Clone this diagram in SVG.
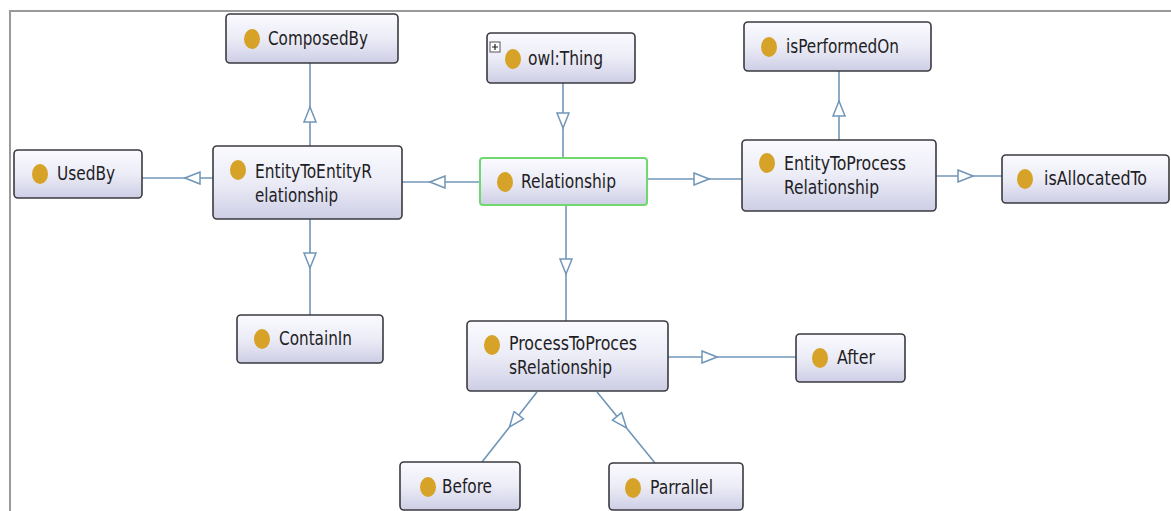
<svg xmlns="http://www.w3.org/2000/svg" width="1171" height="511" viewBox="0 0 1171 511">
<style>
.box{fill:url(#g);stroke:#3a3a40;stroke-width:1.6}
.sel{stroke:#6fd86f;stroke-width:2}
.dot{fill:#d6a227}
.t{font-family:"DejaVu Sans Condensed","DejaVu Sans",sans-serif;font-stretch:condensed;font-size:19px;fill:#1e1e24}
.c{fill:none;stroke:#7096b8;stroke-width:1.6;marker-mid:url(#tri)}
</style>
<defs>
<linearGradient id="g" x1="0" y1="0" x2="0" y2="1">
<stop offset="0" stop-color="#fafaff"/>
<stop offset="0.5" stop-color="#ececf7"/>
<stop offset="1" stop-color="#cdcee5"/>
</linearGradient>
<marker id="tri" viewBox="0 0 17 14" refX="16" refY="7" markerWidth="17" markerHeight="14" markerUnits="userSpaceOnUse" orient="auto">
<path d="M1,1 L16,7 L1,13 Z" fill="#ffffff" stroke="#7096b8" stroke-width="1.5"/>
</marker>
</defs>
<rect width="1171" height="511" fill="#ffffff"/>
<path d="M10,511 V11 H1171" fill="none" stroke="#9a9a9a" stroke-width="2"/>
<g id="connectors">
<path class="c" d="M563,83 L563,128 L563,158"/>
<path class="c" d="M480,182 L430,182 L402,182"/>
<path class="c" d="M310,146 L310,107 L310,63"/>
<path class="c" d="M213,178 L185,178 L142,178"/>
<path class="c" d="M310,219 L310,268 L310,315"/>
<path class="c" d="M647,179 L709,179 L742,179"/>
<path class="c" d="M839,140 L839,101 L839,71"/>
<path class="c" d="M936,176 L973,176 L1002,176"/>
<path class="c" d="M566,205 L566,274 L566,321"/>
<path class="c" d="M668,357 L717,357 L796,357"/>
<path class="c" d="M537,392 L509.5,427 L482,462"/>
<path class="c" d="M597,392 L626.5,428 L655,463"/>
</g>
<g id="ComposedBy">
<rect class="box" x="226" y="14" width="172" height="49" rx="4"/>
<ellipse class="dot" cx="252" cy="39" rx="8" ry="10"/>
<text class="t" x="268" y="45" textLength="100" lengthAdjust="spacingAndGlyphs">ComposedBy</text>
</g>
<g id="owlThing">
<rect class="box" x="487" y="33" width="148" height="50" rx="4"/>
<rect x="490" y="42" width="10" height="10" fill="#ffffff" stroke="#555" stroke-width="1"/>
<path d="M492,47 H498 M495,44 V50" stroke="#222" stroke-width="1.2"/>
<ellipse class="dot" cx="513" cy="59" rx="8" ry="10"/>
<text class="t" x="528" y="65" textLength="75" lengthAdjust="spacingAndGlyphs">owl:Thing</text>
</g>
<g id="isPerformedOn">
<rect class="box" x="744" y="22" width="187" height="49" rx="4"/>
<ellipse class="dot" cx="769" cy="47" rx="8" ry="10"/>
<text class="t" x="786" y="53" textLength="113" lengthAdjust="spacingAndGlyphs">isPerformedOn</text>
</g>
<g id="UsedBy">
<rect class="box" x="14" y="150" width="128" height="48" rx="4"/>
<ellipse class="dot" cx="40" cy="174" rx="8" ry="10"/>
<text class="t" x="57" y="180" textLength="58" lengthAdjust="spacingAndGlyphs">UsedBy</text>
</g>
<g id="EntityToEntityRelationship">
<rect class="box" x="213" y="146" width="189" height="73" rx="4"/>
<ellipse class="dot" cx="238" cy="170" rx="8" ry="10"/>
<text class="t" x="255" y="178" textLength="117" lengthAdjust="spacingAndGlyphs">EntityToEntityR</text>
<text class="t" x="255" y="202" textLength="83" lengthAdjust="spacingAndGlyphs">elationship</text>
</g>
<g id="Relationship">
<rect class="box sel" x="480" y="158" width="167" height="47" rx="3"/>
<ellipse class="dot" cx="505" cy="182" rx="8" ry="10"/>
<text class="t" x="521" y="188" textLength="95" lengthAdjust="spacingAndGlyphs">Relationship</text>
</g>
<g id="EntityToProcessRelationship">
<rect class="box" x="742" y="140" width="194" height="71" rx="4"/>
<ellipse class="dot" cx="767" cy="163" rx="8" ry="10"/>
<text class="t" x="784" y="170" textLength="122" lengthAdjust="spacingAndGlyphs">EntityToProcess</text>
<text class="t" x="784" y="194" textLength="95" lengthAdjust="spacingAndGlyphs">Relationship</text>
</g>
<g id="isAllocatedTo">
<rect class="box" x="1002" y="155" width="167" height="48" rx="4"/>
<ellipse class="dot" cx="1025" cy="179" rx="8" ry="10"/>
<text class="t" x="1044" y="185" textLength="103" lengthAdjust="spacingAndGlyphs">isAllocatedTo</text>
</g>
<g id="ContainIn">
<rect class="box" x="237" y="315" width="146" height="48" rx="4"/>
<ellipse class="dot" cx="262" cy="339" rx="8" ry="10"/>
<text class="t" x="279" y="345" textLength="73" lengthAdjust="spacingAndGlyphs">ContainIn</text>
</g>
<g id="ProcessToProcessRelationship">
<rect class="box" x="467" y="321" width="201" height="70" rx="4"/>
<ellipse class="dot" cx="492" cy="345" rx="8" ry="10"/>
<text class="t" x="509" y="350" textLength="128" lengthAdjust="spacingAndGlyphs">ProcessToProces</text>
<text class="t" x="509" y="374" textLength="103" lengthAdjust="spacingAndGlyphs">sRelationship</text>
</g>
<g id="After">
<rect class="box" x="796" y="334" width="109" height="48" rx="4"/>
<ellipse class="dot" cx="820" cy="358" rx="8" ry="10"/>
<text class="t" x="837" y="364" textLength="38" lengthAdjust="spacingAndGlyphs">After</text>
</g>
<g id="Before">
<rect class="box" x="400" y="462" width="120" height="48" rx="4"/>
<ellipse class="dot" cx="428" cy="487" rx="8" ry="10"/>
<text class="t" x="442" y="493" textLength="50" lengthAdjust="spacingAndGlyphs">Before</text>
</g>
<g id="Parrallel">
<rect class="box" x="609" y="463" width="134" height="47" rx="4"/>
<ellipse class="dot" cx="633" cy="488" rx="8" ry="10"/>
<text class="t" x="650" y="494" textLength="63" lengthAdjust="spacingAndGlyphs">Parrallel</text>
</g>
</svg>
